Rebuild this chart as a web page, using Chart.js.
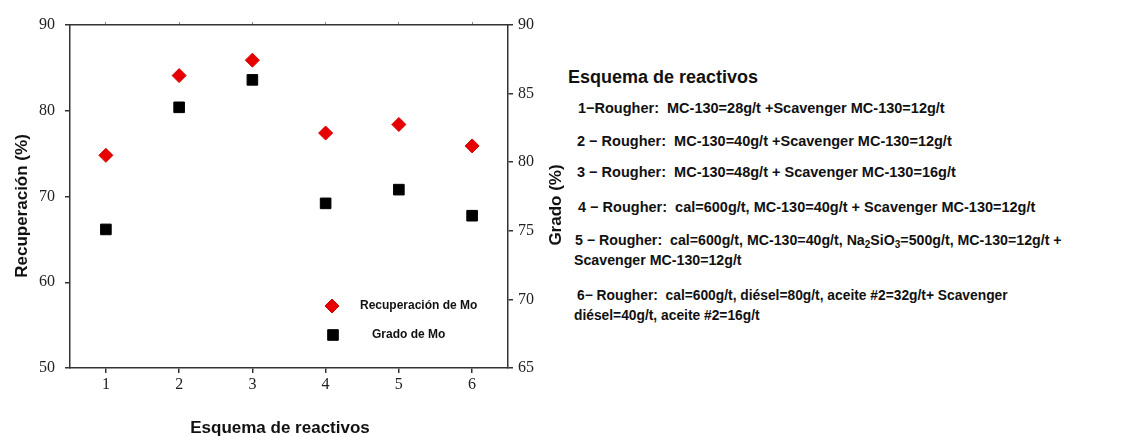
<!DOCTYPE html>
<html>
<head>
<meta charset="utf-8">
<script src="https://cdn.jsdelivr.net/npm/chart.js@4/dist/chart.umd.min.js"></script>
<style>
    body { margin: 0; background: #fff; width: 1137px; height: 437px; overflow: hidden; position: relative; }
    #wrap { position: absolute; left: 0; top: 0; width: 565px; height: 437px; }
    #esquema { position: absolute; left: 0; top: 0; font-family: "Liberation Sans", Arial, sans-serif; font-weight: bold; color: #111; }
    #esquema div { position: absolute; white-space: nowrap; line-height: 20px; font-size: 14.5px; }
    #esquema .tit { font-size: 18px; line-height: 24px; }
    #esquema .l5 { font-size: 14.2px; }
    #esquema .l6 { font-size: 13.8px; }
    #esquema sub { font-size: 10px; line-height: 0; vertical-align: -3px; }
</style>
</head>
<body>
<div id="wrap"><canvas id="chart" width="565" height="437"></canvas></div>

<div id="esquema">
    <div class="tit" style="left:568px; top:65px;">Esquema de reactivos</div>
    <div style="left:578px; top:98px;">1−Rougher:&nbsp; MC-130=28g/t +Scavenger MC-130=12g/t</div>
    <div style="left:577px; top:131px;">2 − Rougher:&nbsp; MC-130=40g/t +Scavenger MC-130=12g/t</div>
    <div style="left:577px; top:162px;">3 − Rougher:&nbsp; MC-130=48g/t + Scavenger MC-130=16g/t</div>
    <div style="left:578px; top:197px;">4 − Rougher:&nbsp; cal=600g/t, MC-130=40g/t + Scavenger MC-130=12g/t</div>
    <div class="l5" style="left:575px; top:230px;">5 − Rougher:&nbsp; cal=600g/t, MC-130=40g/t, Na<sub>2</sub>SiO<sub>3</sub>=500g/t, MC-130=12g/t +</div>
    <div class="l5" style="left:574px; top:250px;">Scavenger MC-130=12g/t</div>
    <div class="l6" style="left:577px; top:286px;">6− Rougher:&nbsp; cal=600g/t, diésel=80g/t, aceite #2=32g/t+ Scavenger</div>
    <div class="l6" style="left:574px; top:306px;">diésel=40g/t, aceite #2=16g/t</div>
</div>

<script>
// esquema number on x, recovery (left axis) and grade (right axis) in %
const esquemas = [1, 2, 3, 4, 5, 6];
const recuperacion = [74.8, 84.1, 85.9, 77.4, 78.4, 75.9];
const grado = [75.1, 84.0, 86.0, 77.0, 78.0, 76.1];

const recTicks = [50, 60, 70, 80, 90];
const gradoTicks = [65, 70, 75, 80, 85, 90];

const axisColor = '#333';
const tickFont = { family: "'Liberation Serif', 'Times New Roman', serif", size: 16 };

// axis titles drawn by hand so both vertical ones read bottom-to-top
const axisTitles = {
    id: 'axisTitles',
    afterDraw(chart) {
        const ctx = chart.ctx;
        ctx.save();
        ctx.fillStyle = '#111';
        ctx.font = "bold 17px 'Liberation Sans', Arial, sans-serif";
        ctx.textAlign = 'center';
        ctx.textBaseline = 'middle';
        ctx.fillText('Esquema de reactivos', 280, 428);

        ctx.translate(22, 206);
        ctx.rotate(-Math.PI / 2);
        ctx.fillText('Recuperación (%)', 0, 0);
        ctx.restore();

        ctx.save();
        ctx.fillStyle = '#111';
        ctx.font = "bold 17px 'Liberation Sans', Arial, sans-serif";
        ctx.textAlign = 'center';
        ctx.textBaseline = 'middle';
        ctx.translate(556, 205);
        ctx.rotate(-Math.PI / 2);
        ctx.fillText('Grado (%)', 0, 0);
        ctx.restore();
    }
};

// small legend box inside the plot, lower right
const innerLegend = {
    id: 'innerLegend',
    afterDraw(chart) {
        const ctx = chart.ctx;
        const rows = [
            { ds: chart.data.datasets[0], mx: 332, tx: 360, y: 306 },
            { ds: chart.data.datasets[1], mx: 333, tx: 372, y: 335 }
        ];
        ctx.save();
        rows.forEach(r => {
            ctx.fillStyle = r.ds.backgroundColor;
            ctx.strokeStyle = r.ds.borderColor;
            Chart.helpers.drawPoint(ctx, {
                pointStyle: r.ds.pointStyle,
                radius: r.ds.pointRadius,
                borderWidth: r.ds.borderWidth,
                rotation: 0
            }, r.mx, r.y);
            ctx.fillStyle = '#111';
            ctx.font = "bold 12px 'Liberation Sans', Arial, sans-serif";
            ctx.textAlign = 'left';
            ctx.textBaseline = 'middle';
            ctx.fillText(r.ds.label, r.tx, r.y);
        });
        ctx.restore();
    }
};

const fixedTicks = list => scale => { scale.ticks = list.map(v => ({ value: v })); };

new Chart(document.getElementById('chart'), {
    type: 'scatter',
    data: {
        datasets: [{
            label: 'Recuperación de Mo',
            data: esquemas.map((e, i) => ({ x: e, y: recuperacion[i] })),
            yAxisID: 'y',
            pointStyle: 'rectRot',
            pointRadius: 7,
            borderWidth: 1,
            backgroundColor: '#e80000',
            borderColor: '#d00000'
        }, {
            label: 'Grado de Mo',
            data: esquemas.map((e, i) => ({ x: e, y: grado[i] })),
            yAxisID: 'y1',
            pointStyle: 'rect',
            pointRadius: 7.5,
            borderWidth: 1,
            backgroundColor: '#000',
            borderColor: '#000'
        }]
    },
    options: {
        responsive: false,
        animation: false,
        devicePixelRatio: 1,
        layout: { padding: 0 },
        plugins: {
            legend: { display: false },
            tooltip: { enabled: false }
        },
        scales: {
            x: {
                type: 'linear',
                position: 'bottom',
                min: 0.51,
                max: 6.49,
                afterBuildTicks: fixedTicks(esquemas),
                afterFit: s => { s.height = 69; },
                ticks: { font: tickFont, color: '#222', padding: 2 },
                grid: { drawOnChartArea: false, tickLength: 5, color: axisColor, lineWidth: 1.5 },
                border: { color: axisColor, width: 1.5 }
            },
            xTop: {
                type: 'linear',
                position: 'top',
                min: 0.51,
                max: 6.49,
                afterBuildTicks: fixedTicks(esquemas),
                afterFit: s => { s.height = 25; },
                ticks: { display: false },
                grid: { drawOnChartArea: false, tickLength: 3, color: '#888', lineWidth: 1 },
                border: { color: axisColor, width: 1.5 }
            },
            y: {
                position: 'left',
                min: 50,
                max: 90,
                afterBuildTicks: fixedTicks(recTicks),
                afterFit: s => { s.width = 70; },
                ticks: { font: tickFont, color: '#222', padding: 10 },
                grid: { drawOnChartArea: false, tickLength: 5, color: axisColor, lineWidth: 1.5 },
                border: { color: axisColor, width: 1.5 }
            },
            y1: {
                position: 'right',
                min: 65,
                max: 90,
                afterBuildTicks: fixedTicks(gradoTicks),
                afterFit: s => { s.width = 57; },
                ticks: { font: tickFont, color: '#222', padding: 5 },
                grid: { drawOnChartArea: false, tickLength: 5, color: axisColor, lineWidth: 1.5 },
                border: { color: axisColor, width: 1.5 }
            }
        }
    },
    plugins: [axisTitles, innerLegend]
});
</script>
</body>
</html>
